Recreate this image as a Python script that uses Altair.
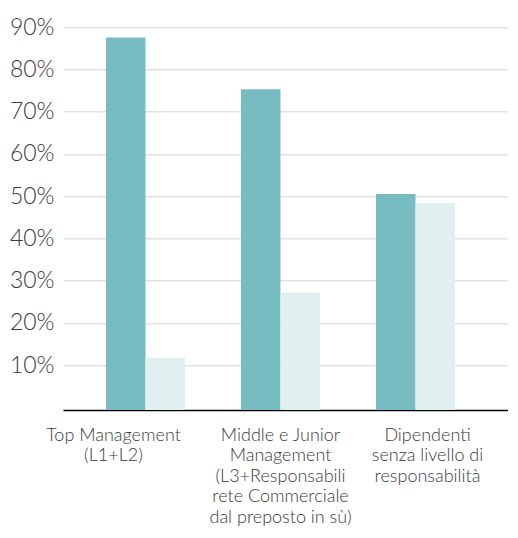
import altair as alt
import pandas as pd

# Categories (lines of each label separated by "|")
categories = [
    "Top Management|(L1+L2)",
    "Middle e Junior|Management|(L3+Responsabili|rete Commerciale|dal preposto in sù)",
    "Dipendenti|senza livello di|responsabilità",
]
series = ["Serie 1", "Serie 2"]
values_s1 = [87.6, 75.3, 50.5]
values_s2 = [11.7, 27.1, 48.4]
y_ticks = [10, 20, 30, 40, 50, 60, 70, 80, 90]
colors = ["#76BCC0", "#E0EFF0"]

rows = []
for c, a, b in zip(categories, values_s1, values_s2):
    rows.append({"cat": c, "serie": series[0], "val": a})
    rows.append({"cat": c, "serie": series[1], "val": b})
df = pd.DataFrame(rows)

Y_MIN = -0.65
FONT = "Lato"
TXT = "#3a3a3a"

chart = (
    alt.Chart(df)
    .mark_bar()
    .encode(
        x=alt.X(
            "cat:N",
            sort=categories,
            scale=alt.Scale(paddingInner=0.415, paddingOuter=0.3556, align=0.448),
            axis=alt.Axis(
                title=None,
                labelExpr="split(datum.label, '|')",
                labelAngle=0,
                ticks=False,
                domainColor="#000000",
                domainWidth=1.5,
                labelFont=FONT,
                labelFontSize=18,
                labelFontWeight=300,
                labelColor=TXT,
                labelPadding=16,
                labelLineHeight=20.5,
                labelBaseline="top",
                labelLimit=0,
                labelOffset={
                    "condition": [
                        {"test": "indexof(datum.label, 'Top') == 0", "value": -32},
                        {"test": "indexof(datum.label, 'Dip') == 0", "value": 12},
                    ],
                    "value": 0,
                },
            ),
        ),
        xOffset=alt.XOffset(
            "serie:N", sort=series, scale=alt.Scale(paddingInner=0, paddingOuter=0)
        ),
        y=alt.Y(
            "val:Q",
            scale=alt.Scale(domain=[Y_MIN, 90], nice=False, zero=False),
            axis=alt.Axis(
                title=None,
                values=y_ticks,
                labelExpr="datum.value + '%'",
                ticks=False,
                domain=False,
                gridColor="#E2E2E2",
                gridWidth=1.5,
                labelFont=FONT,
                labelFontSize=23,
                labelFontWeight=300,
                labelColor=TXT,
                labelPadding=9,
            ),
        ),
        y2=alt.datum(Y_MIN),
        color=alt.Color(
            "serie:N",
            sort=series,
            scale=alt.Scale(domain=series, range=colors),
            legend=None,
        ),
    )
    .properties(
        width=445,
        height=382.7,
        autosize=alt.AutoSizeParams(type="none"),
        padding={"left": 55, "top": 19.3, "right": 0, "bottom": 120},
    )
    .configure_view(stroke=None)
)

chart.save("out.html", embed_options={"renderer": "svg", "actions": False})
